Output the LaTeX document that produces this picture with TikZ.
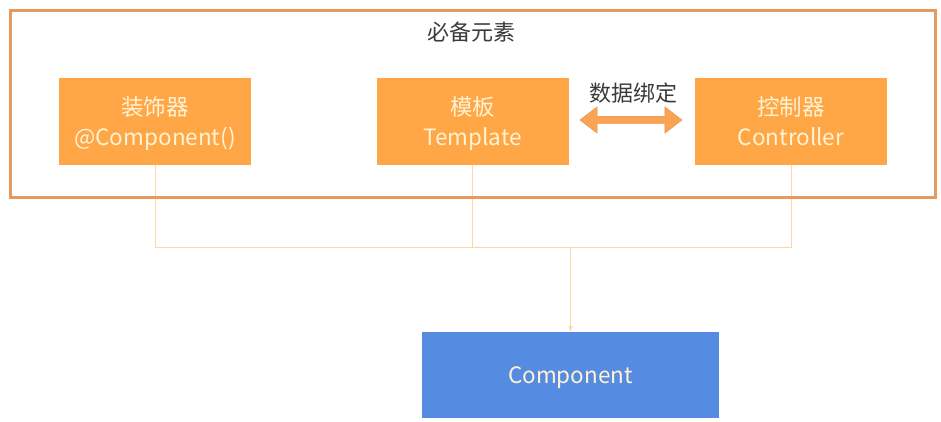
\documentclass[tikz,border=0pt]{standalone}
\usepackage{fontspec}
\setmainfont{Noto Sans CJK SC}
\usetikzlibrary{shapes.arrows}
\definecolor{boxorange}{HTML}{FFA646}
\definecolor{framebrown}{HTML}{E89A5E}
\definecolor{linkpeach}{HTML}{FDD8A6}
\definecolor{compblue}{HTML}{558CE1}
\definecolor{boxtext}{HTML}{FFF3D4}
\definecolor{labelgray}{HTML}{3A3A3A}
\definecolor{bindfill}{HTML}{F9A452}
\definecolor{binddraw}{HTML}{E8894C}
\tikzstyle{diagram}=[x=1pt, y=-1pt, font=\fontsize{22.5}{30}\selectfont]
\tikzstyle{frame}=[draw=framebrown, line width=3pt]
\tikzstyle{part}=[rectangle, fill=boxorange, text=boxtext, minimum width=192pt, minimum height=87pt, align=center, inner sep=0pt, text depth=-3pt]
\tikzstyle{result}=[part, fill=compblue, minimum width=297pt, minimum height=86pt, text depth=-4pt]
\tikzstyle{caption}=[text=labelgray, font=\fontsize{22}{26}\selectfont, inner sep=0pt]
\tikzstyle{bind}=[double arrow, fill=bindfill, draw=binddraw, inner sep=3.5pt, minimum height=102pt, double arrow head extend=9.5pt, double arrow tip angle=75]
\tikzstyle{link}=[draw=linkpeach, line width=1pt]
\tikzstyle{edge}=[link, -latex]
\begin{document}
\begin{tikzpicture}[diagram]
	\useasboundingbox (0,0) rectangle (941,421);
	%% links first, the frame goes over them
	\coordinate (join) at (570.5,247);
	\draw (155,121.5) node[part] (deco) {装饰器\\@Component()};
	\draw (472.5,121.5) node[part] (tpl) {模板\\Template};
	\draw (791,121.5) node[part] (ctl) {控制器\\Controller};
	\draw (570.5,375) node[result] (comp) {Component};
	\draw[link] (deco.south) |- (join);
	\draw[link] (ctl.south) |- (join);
	\draw[link] (tpl.south) -- (tpl.south |- join);
	\draw[edge] (join) -- (comp.north);
	%%
	\draw[frame] (10,10) rectangle (935,197);
	\node[caption] (title) at (471.5,32) {必备元素};
	\draw (631,120) node[bind] (binding) {};
	\node[caption] (bindlabel) at (633,93) {数据绑定};
\end{tikzpicture}
\end{document}
